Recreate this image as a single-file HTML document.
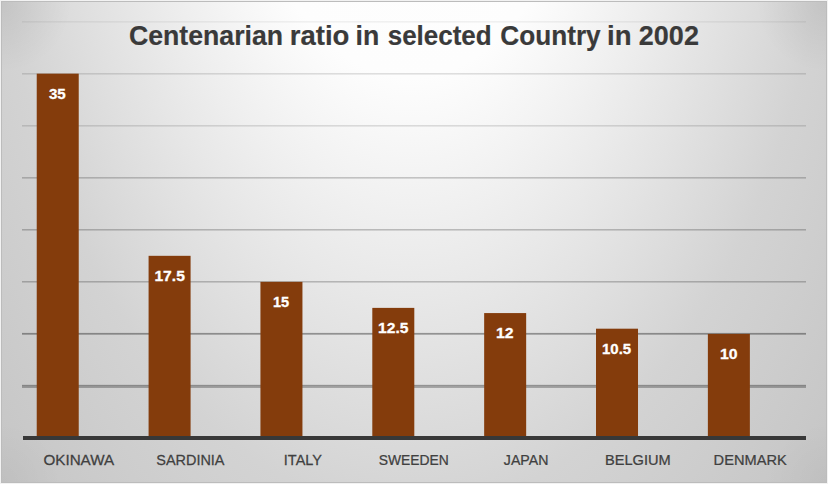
<!DOCTYPE html>
<html><head><meta charset="utf-8">
<style>
html,body{margin:0;padding:0;background:#f2f2f2;}
body{width:828px;height:484px;position:relative;overflow:hidden;}
#chart{position:absolute;left:1px;top:1px;width:824px;height:480px;border:1px solid #bcbcbc;background:radial-gradient(circle 70px at 0 0,rgba(0,0,0,0.07),rgba(0,0,0,0)),radial-gradient(circle 70px at 100% 0,rgba(0,0,0,0.07),rgba(0,0,0,0)),radial-gradient(circle 60px at 0 100%,rgba(0,0,0,0.03),rgba(0,0,0,0)),radial-gradient(circle 60px at 100% 100%,rgba(0,0,0,0.03),rgba(0,0,0,0)),radial-gradient(ellipse 584px 1016px at 409px -237px,#ffffff 0%,#fdfdfd 30.8%,#d3d3d3 73.4%,#c5c5c5 100%);}
svg{position:absolute;left:0;top:0;}
text{font-family:"Liberation Sans",sans-serif;}
</style></head>
<body>
<div id="chart"></div>
<svg width="828" height="484" viewBox="0 0 828 484" shape-rendering="crispEdges">
<g><rect x="21.6" y="21" width="784.4" height="1" fill="#000" fill-opacity="0.05"/><rect x="21.6" y="22" width="784.4" height="1" fill="#000" fill-opacity="0.03"/><rect x="21.6" y="73" width="784.4" height="1" fill="#000" fill-opacity="0.12"/><rect x="21.6" y="74" width="784.4" height="1" fill="#000" fill-opacity="0.07"/><rect x="21.6" y="125" width="784.4" height="1" fill="#000" fill-opacity="0.12"/><rect x="21.6" y="126" width="784.4" height="1" fill="#000" fill-opacity="0.07"/><rect x="21.6" y="177" width="784.4" height="1" fill="#000" fill-opacity="0.2"/><rect x="21.6" y="178" width="784.4" height="1" fill="#000" fill-opacity="0.12"/><rect x="21.6" y="229" width="784.4" height="1" fill="#000" fill-opacity="0.22"/><rect x="21.6" y="230" width="784.4" height="1" fill="#000" fill-opacity="0.12"/><rect x="21.6" y="281" width="784.4" height="1" fill="#000" fill-opacity="0.22"/><rect x="21.6" y="282" width="784.4" height="1" fill="#000" fill-opacity="0.12"/><rect x="21.6" y="332" width="784.4" height="1" fill="#000" fill-opacity="0.03"/><rect x="21.6" y="333" width="784.4" height="1" fill="#000" fill-opacity="0.36"/><rect x="21.6" y="334" width="784.4" height="1" fill="#000" fill-opacity="0.24"/><rect x="21.6" y="384" width="784.4" height="1" fill="#000" fill-opacity="0.05"/><rect x="21.6" y="385" width="784.4" height="1" fill="#000" fill-opacity="0.34"/><rect x="21.6" y="386" width="784.4" height="1" fill="#000" fill-opacity="0.28"/><rect x="21.6" y="387" width="784.4" height="1" fill="#000" fill-opacity="0.26"/></g>
<g fill="#843c0c" shape-rendering="auto"><rect x="36.73" y="73.65" width="42" height="364.35"/><rect x="148.59" y="255.82" width="42" height="182.18"/><rect x="260.44" y="281.85" width="42" height="156.15"/><rect x="372.30" y="307.88" width="42" height="130.12"/><rect x="484.16" y="313.08" width="42" height="124.92"/><rect x="596.01" y="328.69" width="42" height="109.31"/><rect x="707.87" y="333.90" width="42" height="104.10"/></g>
<rect x="23.0" y="436" width="783.0" height="4" fill="#383838"/>
<g font-size="28.5" font-weight="bold" fill="#3a3a3a" stroke="#3a3a3a" stroke-width="0.2"><text x="128.96" y="45.2" transform="translate(128.96 0) scale(0.936 1) translate(-128.96 0)">Centenarian</text><text x="289.77" y="45.2" transform="translate(289.77 0) scale(0.966 1) translate(-289.77 0)">ratio</text><text x="355.53" y="45.2" transform="translate(355.53 0) scale(0.936 1) translate(-355.53 0)">in</text><text x="387.69" y="45.2" transform="translate(387.69 0) scale(0.912 1) translate(-387.69 0)">selected</text><text x="500.28" y="45.2" transform="translate(500.28 0) scale(0.919 1) translate(-500.28 0)">Country</text><text x="607.06" y="45.2" transform="translate(607.06 0) scale(0.968 1) translate(-607.06 0)">in</text><text x="638.85" y="45.2" transform="translate(638.85 0) scale(0.948 1) translate(-638.85 0)">2002</text></g>
<g font-size="15.5" font-weight="bold" fill="#ffffff" stroke="#ffffff" stroke-width="0.3" text-anchor="middle"><text x="57.30" y="98.85" transform="translate(57.30 0) scale(0.976 1) translate(-57.30 0)">35</text><text x="169.65" y="281.02" transform="translate(169.65 0) scale(1.01 1) translate(-169.65 0)">17.5</text><text x="281.10" y="307.05" transform="translate(281.10 0) scale(0.941 1) translate(-281.10 0)">15</text><text x="393.25" y="333.07" transform="translate(393.25 0) scale(1.007 1) translate(-393.25 0)">12.5</text><text x="504.75" y="338.28" transform="translate(504.75 0) scale(1.019 1) translate(-504.75 0)">12</text><text x="616.60" y="353.89" transform="translate(616.60 0) scale(0.967 1) translate(-616.60 0)">10.5</text><text x="728.75" y="359.10" transform="translate(728.75 0) scale(1.019 1) translate(-728.75 0)">10</text></g>
<g font-size="15.5" fill="#404040" stroke="#404040" stroke-width="0.25" text-anchor="middle"><text x="78.80" y="465.0" transform="translate(78.80 0) scale(0.983 1) translate(-78.80 0)">OKINAWA</text><text x="190.40" y="465.0" transform="translate(190.40 0) scale(0.933 1) translate(-190.40 0)">SARDINIA</text><text x="302.90" y="465.0" transform="translate(302.90 0) scale(0.935 1) translate(-302.90 0)">ITALY</text><text x="413.75" y="465.0" transform="translate(413.75 0) scale(0.895 1) translate(-413.75 0)">SWEEDEN</text><text x="526.10" y="465.0" transform="translate(526.10 0) scale(0.913 1) translate(-526.10 0)">JAPAN</text><text x="637.80" y="465.0" transform="translate(637.80 0) scale(0.944 1) translate(-637.80 0)">BELGIUM</text><text x="750.15" y="465.0" transform="translate(750.15 0) scale(0.944 1) translate(-750.15 0)">DENMARK</text></g>
</svg>
</body></html>
